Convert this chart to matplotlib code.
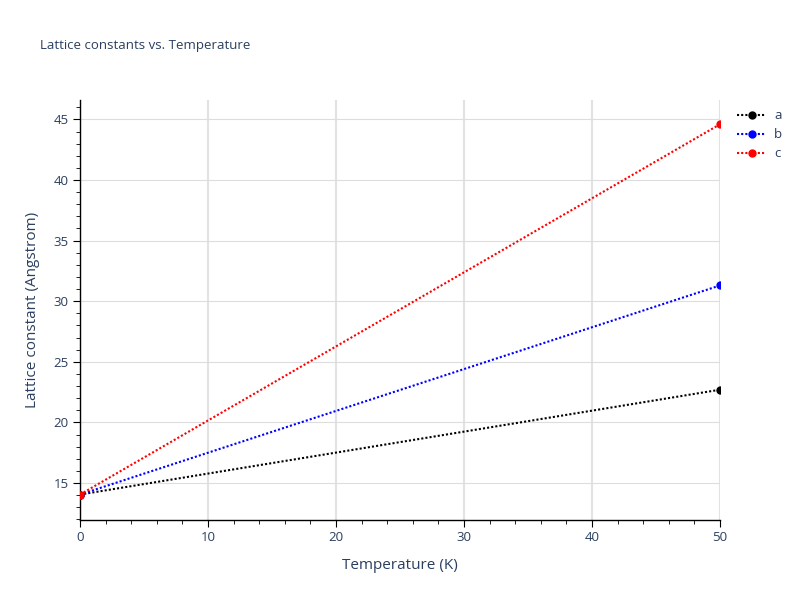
import matplotlib.pyplot as plt
from matplotlib.ticker import MultipleLocator
from matplotlib.lines import Line2D

# temperature (K) and lattice constants (Angstrom)
temperature = [0, 50]
a_vals = [14.05, 22.7]
b_vals = [14.05, 31.3]
c_vals = [14.05, 44.6]
names = ["a", "b", "c"]
colors = ["black", "blue", "red"]

text_col = "#2a3f5f"
plt.rcParams["font.family"] = ["Open Sans", "DejaVu Sans"]

fig = plt.figure(figsize=(8, 6), dpi=100)
ax = fig.add_axes([0.1, 1 - 520 / 600, 0.8, 420 / 600])

for vals, col in zip([a_vals, b_vals, c_vals], colors):
    # markers are clipped by the plot area, like the original
    ax.plot(temperature, vals, color=col, linestyle=(0, (1, 1)), linewidth=1.5,
            marker="o", markersize=5, clip_on=True, zorder=3)

ax.set_xlim(0, 50)
ax.set_ylim(11.95, 46.6)
ax.xaxis.set_major_locator(MultipleLocator(10))
ax.xaxis.set_minor_locator(MultipleLocator(2))
ax.yaxis.set_major_locator(MultipleLocator(5))
ax.yaxis.set_minor_locator(MultipleLocator(1))

ax.grid(True, which="major", axis="y", color="#dddddd", linewidth=0.8)
ax.grid(True, which="major", axis="x", color="#e2e2e2", linewidth=1.5)
ax.set_axisbelow(True)

for s in ["top", "right"]:
    ax.spines[s].set_visible(False)
for s in ["left", "bottom"]:
    ax.spines[s].set_color("black")
    ax.spines[s].set_linewidth(1)

ax.tick_params(which="major", direction="out", length=5, color="black",
               labelsize=9.5, labelcolor=text_col, pad=3)
ax.tick_params(which="minor", direction="out", length=3, color="black")

ax.set_xlabel("Temperature (K)", fontsize=11, color=text_col, labelpad=10)
ax.set_ylabel("Lattice constant (Angstrom)", fontsize=11, color=text_col, labelpad=10)

fig.text(40 / 800, 1 - 45 / 600, "Lattice constants vs. Temperature",
         fontsize=9.5, color=text_col, va="center", ha="left")

handles = [Line2D([], [], color=c, linestyle=(0, (1, 1)), linewidth=1.5,
                  marker="o", markersize=5) for c in colors]
leg = fig.legend(handles, names, loc="upper left", bbox_to_anchor=(732 / 800, 1 - 104 / 600),
                 frameon=False, fontsize=9.5, handlelength=2.2, labelspacing=0.45,
                 handletextpad=0.6, borderaxespad=0)
for t in leg.get_texts():
    t.set_color(text_col)

fig.savefig("out.png", dpi=100)
